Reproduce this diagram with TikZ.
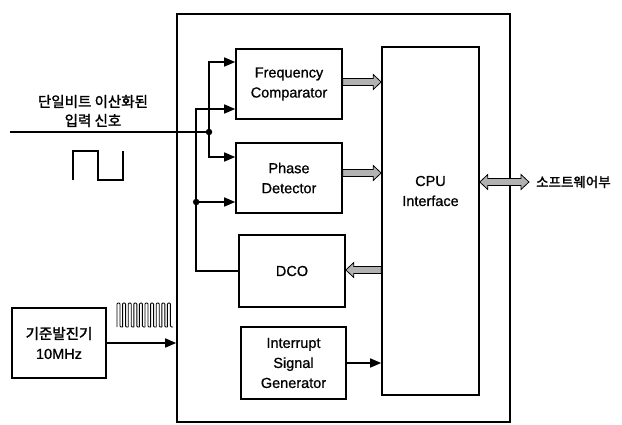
\documentclass[tikz,border=0pt]{standalone}
\usepackage{fontspec}
\setmainfont{Liberation Sans}[FakeBold=0.8]
\newfontfamily\kr{Noto Sans CJK KR}[FakeBold=1.8]
\usetikzlibrary{arrows.meta,calc}
\tikzset{
  blk/.style={draw, line width=1.6pt, rectangle, align=center, inner sep=0pt,
    font=\fontsize{14.5}{20}\selectfont},
  wire/.style={line width=1.6pt},
  arr/.style={line width=1.6pt, -{Triangle[length=11pt,width=9pt]}},
  fatst/.style={fill=gray!60, draw=black, line width=0.8pt},
  dot/.style={circle, fill=black, inner sep=0pt, minimum size=6.5pt},
  krtxt/.style={font=\kr\fontsize{14.5}{19}\selectfont, align=center, inner sep=1pt},
}
\newcommand\fatarrow[2]{%
  \path let \p1=(#1), \p2=(#2), \n1={ifthenelse(\x2>\x1,1,-1)} in
    [fatst] (\x1,\y1+3.5pt) -- (\x2-\n1*8pt,\y1+3.5pt) -- (\x2-\n1*8pt,\y1+7.5pt)
    -- (\x2,\y1) -- (\x2-\n1*8pt,\y1-7.5pt) -- (\x2-\n1*8pt,\y1-3.5pt)
    -- (\x1,\y1-3.5pt) -- cycle;}
\newcommand\fatdarrow[2]{%
  \path let \p1=(#1), \p2=(#2) in
    [fatst] (\x1,\y1) -- (\x1+8pt,\y1+7.5pt) -- (\x1+8pt,\y1+3.5pt)
    -- (\x2-8pt,\y1+3.5pt) -- (\x2-8pt,\y1+7.5pt) -- (\x2,\y1)
    -- (\x2-8pt,\y1-7.5pt) -- (\x2-8pt,\y1-3.5pt) -- (\x1+8pt,\y1-3.5pt)
    -- (\x1+8pt,\y1-7.5pt) -- cycle;}
\begin{document}
\begin{tikzpicture}[x=1pt,y=-1pt]
\useasboundingbox[fill=white] (0,0) rectangle (622,424);

% outer frame
\node[blk, minimum width=333pt, minimum height=408pt] (outer) at (343.5,218) {};

% blocks
\node[blk, minimum width=106pt, minimum height=70pt] (fc) at (289,84) {Frequency\\Comparator};
\node[blk, minimum width=106pt, minimum height=70pt] (pd) at (289,178) {Phase\\Detector};
\node[blk, minimum width=106pt, minimum height=72pt] (dco) at (292,271) {DCO};
\node[blk, minimum width=105pt, minimum height=72pt] (isg) at (293.5,363) {Interrupt\\Signal\\Generator};
\node[blk, minimum width=97pt, minimum height=348pt] (cpu) at (430.5,221) {};
\node[font=\fontsize{14.5}{20}\selectfont, align=center] (cputxt) at (430.5,191) {CPU\\Interface};
\node[blk, minimum width=94pt, minimum height=70pt] (osc) at (59,343) {{\kr\fontsize{14.5}{20}\selectfont 기준발진기}\\10MHz};

% labels
\node[krtxt] (inlab) at (93,111) {단일비트 이산화된\\입력 신호};
\node[krtxt, anchor=west, inner sep=0pt, font=\kr\fontsize{13.5}{18}\selectfont] (sw) at (536,182) {소프트웨어부};

% input signal
\coordinate (src) at (10,132);
\coordinate (j1) at (209,132);
\coordinate (fcA) at ([yshift=22pt]fc.west);
\coordinate (fcB) at ([yshift=-25pt]fc.west);
\coordinate (pdA) at ([yshift=21pt]pd.west);
\coordinate (pdB) at ([yshift=-24pt]pd.west);
\coordinate (fbtop) at ($(fcB)+(-39,0)$);
\coordinate (j2) at (fbtop |- pdB);

\draw[wire] (src) -- (j1);
\draw[arr] (j1) |- (fcA);
\draw[arr] (j1) |- (pdA);
\draw[arr] (dco.west) -| (fbtop) -- (fcB);
\draw[arr] (j2) -- (pdB);
\node[dot] (d1) at (j1) {};
\node[dot] (d2) at (j2) {};

% interrupt and oscillator
\draw[arr] (isg.east) -- (isg.east -| cpu.west);
\draw[arr] (osc.east) -- (osc.east -| outer.west);

% fat data arrows
\fatarrow{$(fc.east)+(0,-2)$}{$(fc.east -| cpu.west)+(0,-2)$}
\fatarrow{$(pd.east)+(0,-5)$}{$(pd.east -| cpu.west)+(0,-5)$}
\fatarrow{$(dco.east -| cpu.west)+(0,-1)$}{$(dco.east)+(0,-1)$}
\fatdarrow{cpu.east |- sw.west}{$(sw.west)+(-7,0)$}

% square wave
\draw[line width=1.2pt] (73,180) -- (73,151) -- (98,151) -- (98,180) -- (123,180) -- (123,151);

% clock pulse train
\foreach \i in {0,...,9} {
  \draw[line width=0.9pt, rounded corners=1pt] ({117+\i*5.6},327) -- ++(0,-24) -- ++(3,0) -- ++(0,24) -- ++(2.6,0);
}
\end{tikzpicture}
\end{document}
